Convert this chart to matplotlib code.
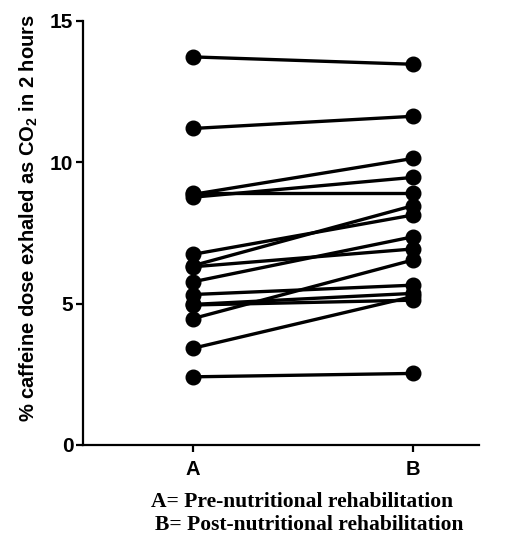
import numpy as np
import matplotlib
matplotlib.use('Agg')
import matplotlib.pyplot as plt

plt.rcParams['font.family'] = ['Liberation Sans', 'DejaVu Sans']
plt.rcParams['mathtext.fontset'] = 'custom'
plt.rcParams['mathtext.rm'] = 'Liberation Sans:bold'
plt.rcParams['mathtext.default'] = 'rm'

# paired values, one entry per subject
groups = ['A', 'B']
pre = [13.72, 11.19, 8.92, 8.86, 8.76, 6.74, 6.34, 6.30, 5.77, 4.47, 5.32, 4.97, 4.95, 3.42, 2.41]
post = [13.46, 11.62, 8.92, 10.13, 9.46, 8.13, 8.46, 6.93, 7.36, 6.54, 5.65, 5.36, 5.12, 5.25, 2.53]
yticks = [0, 5, 10, 15]

fig = plt.figure(figsize=(5.16, 5.39), dpi=100)
ax = fig.add_axes([0.161, 0.1744, 0.767, 0.7872])

x = np.arange(len(groups))
for a, b in zip(pre, post):
    ax.plot(x, [a, b], color='black', lw=2.4, marker='o', ms=10.5,
            markeredgecolor='black', markerfacecolor='black', clip_on=False)

ax.set_xlim(-0.5, 1.3)
ax.set_ylim(0, 15)
ax.set_yticks(yticks)
ax.set_xticks(x)
ax.set_xticklabels(groups)
for s in ['top', 'right']:
    ax.spines[s].set_visible(False)
for s in ['left', 'bottom']:
    ax.spines[s].set_linewidth(1.6)
ax.tick_params(width=1.6, length=5)
ax.tick_params(axis='y', labelsize=15, pad=2)
ax.tick_params(axis='x', labelsize=14.5, pad=6)
for lab in ax.get_xticklabels() + ax.get_yticklabels():
    lab.set_fontweight('bold')

ax.set_ylabel('% caffeine dose exhaled as CO$_2$ in 2 hours',
              fontsize=14.5, fontweight='bold')
ax.yaxis.set_label_coords(-0.11, 0.534)

fig.text(0.585, 0.069, 'A= Pre-nutritional rehabilitation',
         ha='center', va='center', fontsize=15.5, fontweight='bold',
         family='Liberation Serif')
fig.text(0.600, 0.026, 'B= Post-nutritional rehabilitation',
         ha='center', va='center', fontsize=15.5, fontweight='bold',
         family='Liberation Serif')

plt.savefig('out.png', dpi=100)
